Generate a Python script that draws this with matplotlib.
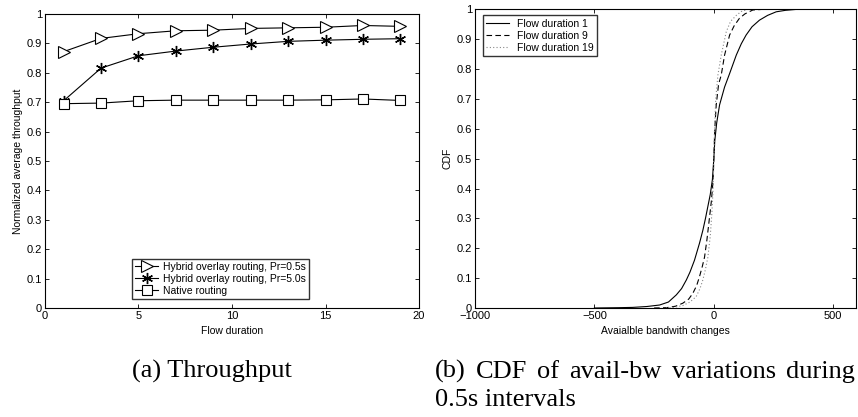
import numpy as np
import matplotlib
matplotlib.use('Agg')
import matplotlib.pyplot as plt

plt.rcParams['font.family'] = ['Liberation Sans', 'DejaVu Sans']

# (a) throughput vs flow duration
flow_duration = [1, 3, 5, 7, 9, 11, 13, 15, 17, 19]
hybrid_05 = [0.872, 0.917, 0.933, 0.943, 0.945, 0.951, 0.953, 0.955, 0.961, 0.958]
hybrid_50 = [0.705, 0.816, 0.858, 0.874, 0.887, 0.898, 0.907, 0.911, 0.914, 0.916]
native = [0.695, 0.697, 0.705, 0.707, 0.707, 0.707, 0.707, 0.708, 0.711, 0.706]

# (b) CDF of avail-bw changes
bw_d1 = [-500, -400, -340, -280, -227, -190, -157, -135, -115, -100, -81, -60, -46, -35, -25, -15, -6, 0,
         4, 12, 24, 45, 66, 94, 115, 135, 160, 191, 225, 261, 300, 344, 600]
cdf_d1 = [0.0, 0.001, 0.002, 0.005, 0.01, 0.02, 0.044, 0.065, 0.094, 0.12, 0.16, 0.217, 0.26, 0.3, 0.34, 0.38, 0.43, 0.5,
          0.56, 0.62, 0.68, 0.74, 0.785, 0.847, 0.885, 0.914, 0.942, 0.964, 0.98, 0.992, 0.997, 1.0, 1.0]
bw_d9 = [-250, -199, -160, -130, -105, -88, -72, -60, -48, -39, -29, -20, -10, -3, 0,
         4, 10, 20, 31, 45, 66, 85, 107, 130, 163, 200, 600]
cdf_d9 = [0.0, 0.001, 0.006, 0.016, 0.03, 0.049, 0.075, 0.105, 0.14, 0.17, 0.228, 0.29, 0.36, 0.43, 0.5,
          0.6, 0.68, 0.75, 0.78, 0.847, 0.914, 0.945, 0.97, 0.985, 0.998, 1.0, 1.0]
bw_d19 = [-200, -170, -130, -100, -74, -58, -46, -35, -25, -15, -8, -3, 0,
          3, 8, 17, 31, 52, 70, 94, 115, 141, 600]
cdf_d19 = [0.0, 0.002, 0.008, 0.02, 0.038, 0.065, 0.094, 0.13, 0.17, 0.24, 0.32, 0.4, 0.5,
           0.6, 0.7, 0.78, 0.847, 0.925, 0.96, 0.98, 0.993, 1.0, 1.0]

fig = plt.figure(figsize=(8.58, 4.17), dpi=100)
ax1 = fig.add_axes([0.0524, 0.2614, 0.436, 0.705])
ax2 = fig.add_axes([0.5536, 0.2614, 0.444, 0.716])

lw = 0.8
ax1.plot(flow_duration, hybrid_05, color='black', lw=lw, marker='>', markersize=9,
         markerfacecolor='white', markeredgewidth=0.8, label='Hybrid overlay routing, Pr=0.5s')
ax1.plot(flow_duration, hybrid_50, color='black', lw=lw, marker=(6, 2, 0), markersize=8,
         markeredgewidth=1.0, label='Hybrid overlay routing, Pr=5.0s')
ax1.plot(flow_duration, native, color='black', lw=lw, marker='s', markersize=6.5,
         markerfacecolor='white', markeredgewidth=0.8, label='Native routing')
ax1.set_xlim(0, 20)
ax1.set_ylim(0, 1)
ax1.set_xticks([0, 5, 10, 15, 20])
ax1.set_yticks(np.arange(0, 1.01, 0.1))
ax1.set_yticklabels(['0', '0.1', '0.2', '0.3', '0.4', '0.5', '0.6', '0.7', '0.8', '0.9', '1'])
ax1.set_xlabel('Flow duration', fontsize=7.5, labelpad=3.5)
ax1.set_ylabel('Normalized average throughput', fontsize=7.5, labelpad=3)
leg1 = ax1.legend(loc='lower left', bbox_to_anchor=(0.233, 0.03), fontsize=7.5, frameon=True,
                  fancybox=False, edgecolor='black', handlelength=2.2, borderpad=0.3,
                  labelspacing=0.2, handletextpad=0.5, borderaxespad=0)
leg1.get_frame().set_linewidth(1.0)

ax2.plot(bw_d1, cdf_d1, color='black', lw=lw, ls='-', label='Flow duration 1')
ax2.plot(bw_d9, cdf_d9, color='black', lw=lw, ls=(0, (5, 3)), label='Flow duration 9')
ax2.plot(bw_d19, cdf_d19, color='#888888', lw=lw, ls=(0, (1, 2)), label='Flow duration 19')
ax2.set_xlim(-1000, 595)
ax2.set_ylim(0, 1)
ax2.set_xticks([-1000, -500, 0, 500])
ax2.set_xticklabels(['\u22121000', '\u2212500', '0', '500'])
ax2.set_yticks(np.arange(0, 1.01, 0.1))
ax2.set_yticklabels(['0', '0.1', '0.2', '0.3', '0.4', '0.5', '0.6', '0.7', '0.8', '0.9', '1'])
ax2.set_xlabel('Avaialble bandwith changes', fontsize=7.5, labelpad=3.5)
ax2.set_ylabel('CDF', fontsize=7.5, labelpad=3)
leg2 = ax2.legend(loc='upper left', bbox_to_anchor=(0.02, 0.98), fontsize=7.5, frameon=True,
                  fancybox=False, edgecolor='black', handlelength=2.2, borderpad=0.3,
                  labelspacing=0.2, handletextpad=0.8, borderaxespad=0)
leg2.get_frame().set_linewidth(1.0)

for ax in (ax1, ax2):
    ax.tick_params(direction='in', top=True, right=True, labelsize=8, length=3, width=0.6, pad=2)
    for s in ax.spines.values():
        s.set_linewidth(0.8)

# captions (serif, the first line of (b) is justified)
cap_size = 19
W, H = 858.0, 417.0
fig.text(132 / W, 1 - 378 / H, '(a) Throughput', fontsize=cap_size, family='Liberation Serif',
         ha='left', va='baseline')

fig.canvas.draw()
renderer = fig.canvas.get_renderer()
words = '(b) CDF of avail-bw variations during'.split()
texts = [fig.text(0, 1 - 378 / H, w, fontsize=cap_size, family='Liberation Serif', ha='left', va='baseline')
         for w in words]
widths = [t.get_window_extent(renderer).width for t in texts]
x0, x1 = 435.0, 855.0
gap = (x1 - x0 - sum(widths)) / (len(words) - 1)
x = x0
for t, w in zip(texts, widths):
    t.set_x(x / W)
    x += w + gap
fig.text(x0 / W, 1 - 406 / H, '0.5s intervals', fontsize=cap_size, family='Liberation Serif',
         ha='left', va='baseline')

fig.savefig('out.png', dpi=100)
